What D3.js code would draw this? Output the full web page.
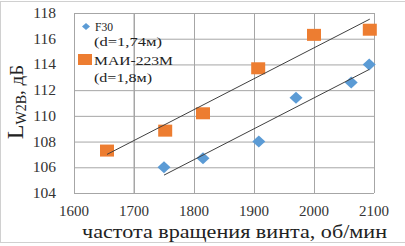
<!DOCTYPE html>
<html><head><meta charset="utf-8">
<script src="https://cdn.jsdelivr.net/npm/d3@7"></script>
<style>html,body{margin:0;padding:0;background:#fff;}svg{display:block;}</style>
</head><body>
<svg id="c" width="405" height="246"></svg>
<script>
const f30X = [1750, 1815, 1908, 1970, 2062, 2092];
const f30Y = [106.0, 106.7, 108.0, 111.4, 112.6, 114.0];
const maiX = [1655, 1752, 1815, 1907, 2000, 2093];
const maiY = [107.3, 108.85, 110.2, 113.7, 116.3, 116.7];
const xTicks = [1600, 1700, 1800, 1900, 2000, 2100];
const yTicks = [104, 106, 108, 110, 112, 114, 116, 118];
const seriesNames = ["F30", "(d=1,74м)", "МАИ-223М", "(d=1,8м)"];

const svg = d3.select("#c");
const FONT = "'Liberation Serif','Times New Roman',serif";
const x = d3.scaleLinear().domain([1600, 2100]).range([74, 374]);
const y = d3.scaleLinear().domain([104, 118]).range([193, 13]);
const grid = "#a6a6a6";

// outer border
svg.append("rect").attr("x", 0.5).attr("y", 1.5).attr("width", 420).attr("height", 241)
  .attr("fill", "none").attr("stroke", "#d0d0d0");

// gridlines
const gx = svg.append("g").attr("transform", "translate(0,193)")
  .call(d3.axisBottom(x).tickValues(xTicks).tickSize(-180).tickFormat(""));
const gy = svg.append("g").attr("transform", "translate(74,0)")
  .call(d3.axisLeft(y).tickValues(yTicks).tickSize(-300).tickFormat(""));
[gx, gy].forEach(g => { g.select(".domain").remove(); g.selectAll("line").attr("stroke", grid).attr("stroke-width", 1); });

// legend background
svg.append("rect").attr("x", 75).attr("y", 14).attr("width", 58).attr("height", 72).attr("fill", "#fff");
svg.append("line").attr("x1", x(1700)).attr("x2", x(1700)).attr("y1", 13).attr("y2", 193).attr("stroke", grid);

// tick labels
svg.append("g").selectAll("text").data(xTicks).join("text")
  .attr("x", d => x(d)).attr("y", 216).attr("text-anchor", "middle")
  .attr("font-family", FONT).attr("font-size", 15).attr("fill", "#333").text(d => d);
svg.append("g").selectAll("text").data(yTicks).join("text")
  .attr("x", 56).attr("y", d => y(d) + 5).attr("text-anchor", "end")
  .attr("font-family", FONT).attr("font-size", 15.5).attr("fill", "#333").text(d => d);

// markers
const f30 = f30X.map((v, i) => [v, f30Y[i]]);
const mai = maiX.map((v, i) => [v, maiY[i]]);
svg.append("g").selectAll("path").data(f30).join("path")
  .attr("d", "M0,-6 L6.5,0 L0,6 L-6.5,0 Z")
  .attr("transform", d => `translate(${x(d[0])},${y(d[1])})`).attr("fill", "#5b9bd5");
svg.append("g").selectAll("rect").data(mai).join("rect")
  .attr("x", d => x(d[0]) - 7).attr("y", d => y(d[1]) - 6).attr("width", 14).attr("height", 12)
  .attr("fill", "#ed7d31");

// linear trendlines
function fit(pts) {
  const mx = d3.mean(pts, p => p[0]), my = d3.mean(pts, p => p[1]);
  const sxy = d3.sum(pts, p => (p[0] - mx) * (p[1] - my));
  const sxx = d3.sum(pts, p => (p[0] - mx) ** 2);
  const b = sxy / sxx, a = my - b * mx;
  const x0 = d3.min(pts, p => p[0]), x1 = d3.max(pts, p => p[0]);
  return [[x0, a + b * x0], [x1, a + b * x1]];
}
[f30, mai].forEach(pts => {
  const l = fit(pts);
  svg.append("line").attr("x1", x(l[0][0])).attr("y1", y(l[0][1]))
    .attr("x2", x(l[1][0])).attr("y2", y(l[1][1]))
    .attr("stroke", "#404040").attr("stroke-width", 1);
});

// legend
svg.append("path").attr("d", "M0,-3.5 L4,0 L0,3.5 L-4,0 Z").attr("transform", "translate(86,26.5)").attr("fill", "#5b9bd5");
svg.append("rect").attr("x", 78).attr("y", 54).attr("width", 14).attr("height", 11).attr("fill", "#ed7d31");
const leg = [[95, 31, 18], [94, 46, 68], [94, 65, 79], [94, 82, 58]];
leg.forEach((p, i) => {
  svg.append("text").attr("x", p[0]).attr("y", p[1]).attr("textLength", p[2]).attr("lengthAdjust", "spacingAndGlyphs")
    .attr("font-family", FONT).attr("font-size", 13.5).attr("fill", "#222").text(seriesNames[i]);
});

// axis titles
svg.append("text").attr("x", 82).attr("y", 238).attr("textLength", 305).attr("lengthAdjust", "spacingAndGlyphs")
  .attr("font-family", FONT).attr("font-size", 19).attr("fill", "#222").text("частота вращения винта, об/мин");
const yt = svg.append("text").attr("transform", "translate(23,102) rotate(-90)").attr("text-anchor", "middle")
  .attr("font-family", FONT).attr("fill", "#222");
yt.append("tspan").attr("font-size", 24).text("L");
yt.append("tspan").attr("font-size", 14).attr("dy", 3).text("W2В");
yt.append("tspan").attr("font-size", 19).attr("dy", -3).text(", дБ");
</script>
</body></html>
